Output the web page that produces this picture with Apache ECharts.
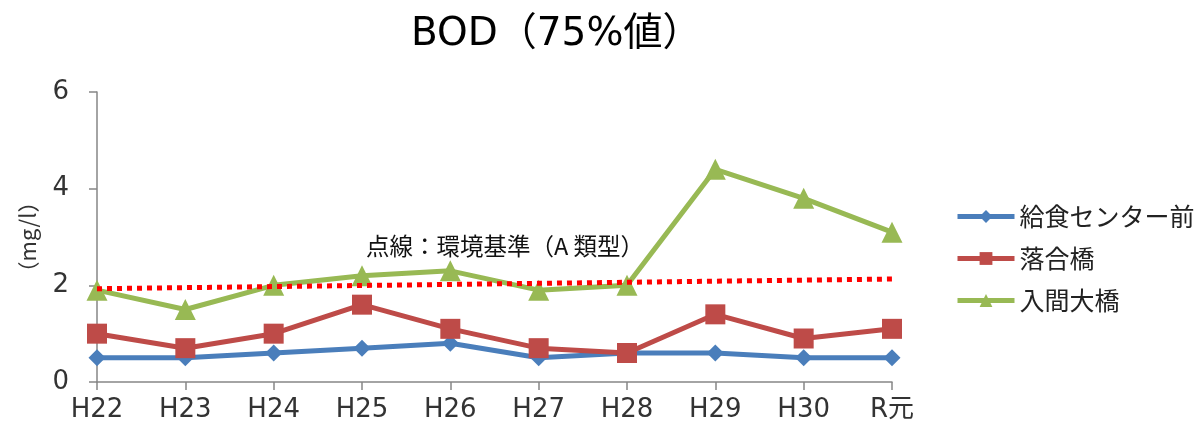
<!DOCTYPE html>
<html>
<head>
<meta charset="utf-8">
<script src="https://cdn.jsdelivr.net/npm/echarts@6/dist/echarts.min.js"></script>
<style>
html, body { margin: 0; padding: 0; background: #fff; }
#chart { width: 1204px; height: 426px; }
</style>
</head>
<body>
<div id="chart"></div>
<script>
// 年度
var categories = ['H22', 'H23', 'H24', 'H25', 'H26', 'H27', 'H28', 'H29', 'H30', 'R元'];
// BOD 75%値 (mg/l)
var kyushokuCenter = [0.5, 0.5, 0.6, 0.7, 0.8, 0.5, 0.6, 0.6, 0.5, 0.5];
var ochiaiBashi = [1.0, 0.7, 1.0, 1.6, 1.1, 0.7, 0.6, 1.4, 0.9, 1.1];
var irumaOhashi = [1.9, 1.5, 2.0, 2.2, 2.3, 1.9, 2.0, 4.4, 3.8, 3.1];
// 環境基準（A類型）点線の両端
var standardStart = 1.93;
var standardEnd = 2.13;
var yTicks = [0, 2, 4, 6];

var FONT = '"DejaVu Sans", "Noto Sans CJK JP", sans-serif';
var JFONT = '"Noto Sans CJK JP", sans-serif';
var chart = echarts.init(document.getElementById('chart'));

var option = {
    animation: false,
    textStyle: { fontFamily: FONT },
    title: {
        text: 'BOD（75%値）',
        left: 406,
        top: 10,
        textStyle: { fontSize: 39, fontWeight: 'normal', color: '#000', fontFamily: FONT }
    },
    color: ['#4a7ebb', '#be4b48', '#98b954'],
    legend: {
        orient: 'vertical',
        left: 950,
        top: 199,
        itemWidth: 57,
        itemHeight: 16,
        itemGap: 17,
        lineStyle: { width: 5 },
        textStyle: { fontSize: 25, color: '#222', fontFamily: JFONT }
    },
    grid: { left: 97, right: 312, top: 92, bottom: 44 },
    xAxis: {
        type: 'category',
        boundaryGap: false,
        data: categories,
        axisLine: { lineStyle: { color: '#868686', width: 1.5 } },
        axisTick: { alignWithLabel: true, length: 8, lineStyle: { color: '#868686', width: 1.5 } },
        axisLabel: { fontSize: 26, color: '#333', margin: 15, fontFamily: FONT }
    },
    yAxis: {
        type: 'value',
        min: 0,
        max: 6,
        interval: 2,
        name: '（mg/l）',
        nameLocation: 'middle',
        nameRotate: 90,
        nameGap: 58,
        nameTextStyle: { fontSize: 22, color: '#333', fontFamily: JFONT },
        axisLine: { show: true, lineStyle: { color: '#868686', width: 1.5 } },
        axisTick: { show: true, length: 8, lineStyle: { color: '#868686', width: 1.5 } },
        splitLine: { show: false },
        axisLabel: {
            fontSize: 26, color: '#333', margin: 28, fontFamily: FONT,
            formatter: function (v) { return yTicks.indexOf(v) >= 0 ? String(v) : ''; }
        }
    },
    graphic: [{
        type: 'text',
        left: 366,
        top: 234,
        style: { text: '点線：環境基準（A 類型）', fontSize: 23.5, fill: '#111', fontFamily: JFONT }
    }],
    series: [
        {
            name: '給食センター前',
            type: 'line',
            data: kyushokuCenter,
            symbol: 'diamond',
            symbolSize: 17,
            lineStyle: { width: 5 },
            z: 3
        },
        {
            name: '落合橋',
            type: 'line',
            data: ochiaiBashi,
            symbol: 'rect',
            symbolSize: 20,
            lineStyle: { width: 5 },
            z: 4
        },
        {
            name: '入間大橋',
            type: 'line',
            data: irumaOhashi,
            symbol: 'triangle',
            symbolSize: 21,
            lineStyle: { width: 5 },
            z: 2,
            markLine: {
                silent: true,
                symbol: ['none', 'none'],
                label: { show: false },
                lineStyle: { color: '#ff0000', type: [5, 5], width: 5 },
                data: [[
                    { coord: [categories[0], standardStart] },
                    { coord: [categories[categories.length - 1], standardEnd] }
                ]]
            }
        }
    ]
};
chart.setOption(option);
</script>
</body>
</html>
